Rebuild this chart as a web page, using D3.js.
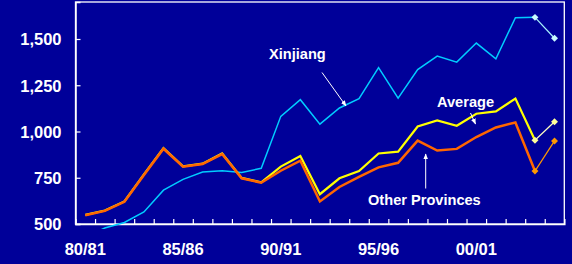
<!DOCTYPE html>
<html>
<head>
<meta charset="utf-8">
<script src="https://cdn.jsdelivr.net/npm/d3@7"></script>
<style>
  body { margin: 0; background: #000099; }
  svg { display: block; font-family: "Liberation Sans", Arial, sans-serif; font-weight: bold; }
</style>
</head>
<body>
<svg id="chart" width="572" height="264"></svg>
<script>
// crop years
const years = ["80/81","81/82","82/83","83/84","84/85","85/86","86/87","87/88","88/89","89/90",
  "90/91","91/92","92/93","93/94","94/95","95/96","96/97","97/98","98/99","99/00",
  "00/01","01/02","02/03","03/04","04/05"];
const yearLabels = ["80/81","85/86","90/91","95/96","00/01"];
const yTicks = [500, 750, 1000, 1250, 1500];

// series (last value is the projection, joined by a thin line)
const xinjiang = [430,478,508,565,683,741,781,788,779,801,1082,1172,1040,1127,1178,1345,1180,1335,1408,1375,1478,1393,1615,1617,1504];
const average  = [549,573,622,768,910,812,826,881,749,725,810,868,661,747,786,881,891,1027,1060,1031,1096,1109,1178,953,1053];
const other    = [547,571,620,765,907,810,824,878,747,723,788,842,622,700,755,806,831,951,897,906,970,1022,1049,786,949];

const svg = d3.select("#chart");
const W = 572, H = 264;
const plotLeft = 75.5, plotRight = 564.3, plotTop = 2, plotBottom = 224;

svg.append("rect").attr("width", W).attr("height", H).attr("fill", "#000099");

const x = d3.scaleBand().domain(years).range([plotLeft, plotRight]);
const xi = d3.scaleLinear().domain([0, years.length]).range([plotLeft, plotRight]);
const y = d3.scaleLinear().domain([500, 1700]).range([plotBottom, plotTop]);
const cx = d => x(d) + x.bandwidth() / 2;

// clip a little below the axis, like the original
svg.append("clipPath").attr("id", "clip")
  .append("rect").attr("x", plotLeft).attr("y", plotTop)
  .attr("width", plotRight - plotLeft).attr("height", plotBottom - plotTop + 5);

// plot box
svg.append("rect")
  .attr("x", plotLeft).attr("y", plotTop)
  .attr("width", plotRight - plotLeft).attr("height", plotBottom - plotTop)
  .attr("fill", "none").attr("stroke", "#ffffff").attr("stroke-width", 1.3);

// y axis, ticks pointing inside
const yAxisGroup = svg.append("g")
  .attr("transform", `translate(${plotLeft},0)`)
  .call(d3.axisLeft(y).tickValues(yTicks).tickSize(-5).tickPadding(14).tickFormat(d3.format(",")));
yAxisGroup.select(".domain").attr("stroke", "#ffffff").attr("stroke-width", 1.5);
yAxisGroup.selectAll("line").attr("stroke", "#ffffff").attr("stroke-width", 1.2);
yAxisGroup.selectAll("text")
  .attr("fill", "#ffffff")
  .style("font-size", "16.5px")
  .style("font-weight", "bold")
  .attr("dy", "0.36em");

// x ticks on band boundaries
const xTickGroup = svg.append("g")
  .attr("transform", `translate(0,${plotBottom})`)
  .call(d3.axisBottom(xi).tickValues(d3.range(1, years.length)).tickSize(-5).tickFormat(""));
xTickGroup.select(".domain").attr("stroke", "#ffffff").attr("stroke-width", 1.5);
xTickGroup.selectAll("line").attr("stroke", "#ffffff").attr("stroke-width", 1.2);

// x labels
const xAxisGroup = svg.append("g")
  .attr("transform", `translate(0,${plotBottom})`)
  .call(d3.axisBottom(x).tickValues(yearLabels).tickSize(0).tickPadding(19));
xAxisGroup.select(".domain").remove();
xAxisGroup.selectAll("text")
  .attr("fill", "#ffffff")
  .style("font-size", "16.5px")
  .style("font-weight", "bold");

// lines
const series = [
  { name: "Xinjiang", values: xinjiang, color: "#00CCFF", width: 1.5, thin: "#A8F4FF", mark: "#C8FAFF" },
  { name: "Average", values: average, color: "#FFFF00", width: 2.2, thin: "#FFFFC0", mark: "#FFFF99" },
  { name: "Other Provinces", values: other, color: "#FF6600", width: 2.5, thin: "#FF9900", mark: "#FF9900" }
];

const line = d3.line().x(d => cx(d.year)).y(d => y(d.v));
const plot = svg.append("g").attr("clip-path", "url(#clip)");
const n = years.length;

series.forEach(s => {
  const pts = s.values.map((v, i) => ({ year: years[i], v: v }));
  plot.append("path")
    .datum(pts.slice(0, n - 1))
    .attr("d", line)
    .attr("fill", "none")
    .attr("stroke", s.color)
    .attr("stroke-width", s.width)
    .attr("stroke-linejoin", "miter");
  plot.append("path")
    .datum(pts.slice(n - 2))
    .attr("d", line)
    .attr("fill", "none")
    .attr("stroke", s.thin)
    .attr("stroke-width", 1.2);
  // square diamonds on the projected points
  plot.selectAll(null)
    .data(pts.slice(n - 2))
    .enter().append("path")
    .attr("d", d3.symbol().type(d3.symbolSquare).size(24))
    .attr("transform", d => `translate(${cx(d.year)},${y(d.v)}) rotate(45)`)
    .attr("fill", s.mark);
});

// annotations
const defs = svg.append("defs");
defs.append("marker")
  .attr("id", "arrow")
  .attr("viewBox", "0 0 10 10")
  .attr("refX", 9).attr("refY", 5)
  .attr("markerWidth", 6).attr("markerHeight", 6)
  .attr("orient", "auto")
  .append("path").attr("d", "M0,1 L10,5 L0,9 z").attr("fill", "#ffffff");

const notes = [
  { text: "Xinjiang", tx: 269, ty: 58.5, x1: 322, y1: 72.5, x2: 346, y2: 106 },
  { text: "Average", tx: 437, ty: 106.5, x1: 470.5, y1: 113, x2: 475.5, y2: 124 },
  { text: "Other Provinces", tx: 368, ty: 205, x1: 425.7, y1: 188.5, x2: 425.7, y2: 154 }
];
notes.forEach(a => {
  svg.append("text")
    .attr("x", a.tx).attr("y", a.ty)
    .attr("fill", "#ffffff")
    .style("font-size", "14.6px")
    .text(a.text);
  svg.append("line")
    .attr("x1", a.x1).attr("y1", a.y1)
    .attr("x2", a.x2).attr("y2", a.y2)
    .attr("stroke", "#ffffff").attr("stroke-width", 1)
    .attr("marker-end", "url(#arrow)");
});
</script>
</body>
</html>
